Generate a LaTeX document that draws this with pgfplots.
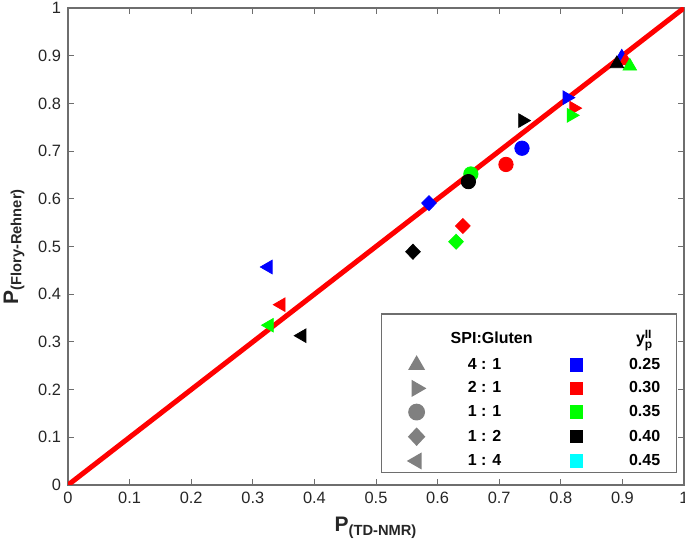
\documentclass[border=0pt]{standalone}
\usepackage{pgfplots}
\pgfplotsset{compat=1.18}
\usepackage{amsmath}
\usepackage{fontspec}
\setmainfont{Liberation Sans}
\definecolor{mblue}{RGB}{0,0,255}
\definecolor{mred}{RGB}{255,0,0}
\definecolor{mgreen}{RGB}{0,255,0}
\definecolor{mcyan}{RGB}{0,255,255}
\definecolor{axgray}{RGB}{110,110,110}
\definecolor{leggray}{RGB}{128,128,128}
\begin{document}
\begin{tikzpicture}
\begin{axis}[
  name=ax,
  scale only axis,
  width=308pt, height=238.5pt,
  xmin=0, xmax=1, ymin=0, ymax=1,
  xtick={0,0.1,0.2,0.3,0.4,0.5,0.6,0.7,0.8,0.9,1},
  ytick={0,0.1,0.2,0.3,0.4,0.5,0.6,0.7,0.8,0.9,1},
  xticklabels={0,0.1,0.2,0.3,0.4,0.5,0.6,0.7,0.8,0.9,1},
  yticklabels={0,0.1,0.2,0.3,0.4,0.5,0.6,0.7,0.8,0.9,1},
  tick align=inside,
  major tick length=3pt,
  tick style={axgray, line width=0.5pt},
  axis line style={axgray, line width=0.6pt},
  tick label style={font=\fontsize{8.2}{9}\selectfont, text=black!85},
  label style={font=\fontsize{10.5}{12}\selectfont\bfseries, text=black!85},
  xlabel={P$_{\text{(TD-NMR)}}$},
  ylabel={P$_{\text{(Flory-Rehner)}}$},
  legend columns=2,
  legend cell align=center,
  legend image code/.code={\path[draw=none,fill=none] (-14.5pt,-3pt) rectangle (8pt,3pt); \draw[#1] plot coordinates {(0pt,0pt)};},
  legend style={at={(0.989,0.025)}, anchor=south east, draw=axgray, fill=white, line width=0.6pt,
    font=\fontsize{8}{9}\selectfont\bfseries,
    inner xsep=3pt, inner ysep=2pt,
    column sep=13pt, /tikz/column 2/.style={column sep=18.5pt},
    row sep=4.2pt,
    nodes={minimum width=26pt, inner xsep=0pt, inner ysep=0pt, text height=6pt, text depth=1.5pt}},
]
% 1:1 reference line
\addplot[mred, line width=2.5pt, forget plot] coordinates {(0,0) (1,1)};

% y_p^II = 0.25 (blue)
\addplot[only marks, mark=triangle*, color=mblue, mark size=3.9pt, forget plot] coordinates {(0.899,0.897)};
\addplot[only marks, mark=triangle*, color=mblue, mark size=3.9pt, mark options={rotate=-90}, forget plot] coordinates {(0.810,0.812)};
\addplot[only marks, mark=*, color=mblue, mark size=3.6pt, forget plot] coordinates {(0.737,0.706)};
\addplot[only marks, mark=diamond*, color=mblue, mark size=3.75pt, mark options={xscale=1.3}, forget plot] coordinates {(0.586,0.591)};
\addplot[only marks, mark=triangle*, color=mblue, mark size=3.9pt, mark options={rotate=90}, forget plot] coordinates {(0.325,0.457)};

% y_p^II = 0.30 (red)
\addplot[only marks, mark=triangle*, color=mred, mark size=3.9pt, forget plot] coordinates {(0.905,0.889)};
\addplot[only marks, mark=triangle*, color=mred, mark size=3.9pt, mark options={rotate=-90}, forget plot] coordinates {(0.821,0.790)};
\addplot[only marks, mark=*, color=mred, mark size=3.6pt, forget plot] coordinates {(0.711,0.672)};
\addplot[only marks, mark=diamond*, color=mred, mark size=3.75pt, mark options={xscale=1.3}, forget plot] coordinates {(0.641,0.543)};
\addplot[only marks, mark=triangle*, color=mred, mark size=3.9pt, mark options={rotate=90}, forget plot] coordinates {(0.346,0.378)};

% y_p^II = 0.35 (green)
\addplot[only marks, mark=triangle*, color=mgreen, mark size=3.9pt, forget plot] coordinates {(0.912,0.878)};
\addplot[only marks, mark=triangle*, color=mgreen, mark size=3.9pt, mark options={rotate=-90}, forget plot] coordinates {(0.817,0.775)};
\addplot[only marks, mark=*, color=mgreen, mark size=3.6pt, forget plot] coordinates {(0.654,0.652)};
\addplot[only marks, mark=diamond*, color=mgreen, mark size=3.75pt, mark options={xscale=1.3}, forget plot] coordinates {(0.630,0.510)};
\addplot[only marks, mark=triangle*, color=mgreen, mark size=3.9pt, mark options={rotate=90}, forget plot] coordinates {(0.327,0.335)};

% y_p^II = 0.40 (black)
\addplot[only marks, mark=triangle*, color=black, mark size=3.9pt, forget plot] coordinates {(0.891,0.883)};
\addplot[only marks, mark=triangle*, color=black, mark size=3.9pt, mark options={rotate=-90}, forget plot] coordinates {(0.738,0.764)};
\addplot[only marks, mark=*, color=black, mark size=3.6pt, forget plot] coordinates {(0.650,0.636)};
\addplot[only marks, mark=diamond*, color=black, mark size=3.75pt, mark options={xscale=1.3}, forget plot] coordinates {(0.560,0.489)};
\addplot[only marks, mark=triangle*, color=black, mark size=3.9pt, mark options={rotate=90}, forget plot] coordinates {(0.380,0.313)};

% legend
\addlegendimage{empty legend}
\addlegendentry[text height=13pt, text depth=2pt]{\makebox[0pt][c]{\hspace{7pt}SPI:Gluten}}
\addlegendimage{empty legend}
\addlegendentry[text height=13pt, text depth=2pt]{$\text{y}_{\text{p}}^{\text{II}}$}
\addlegendimage{mark=triangle*, leggray, mark size=4.3pt}
\addlegendentry{4 : 1}
\addlegendimage{mark=square*, mblue, mark size=3pt}
\addlegendentry{0.25}
\addlegendimage{mark=triangle*, leggray, mark size=4.3pt, mark options={rotate=-90}}
\addlegendentry{2 : 1}
\addlegendimage{mark=square*, mred, mark size=3pt}
\addlegendentry{0.30}
\addlegendimage{mark=*, leggray, mark size=3.9pt}
\addlegendentry{1 : 1}
\addlegendimage{mark=square*, mgreen, mark size=3pt}
\addlegendentry{0.35}
\addlegendimage{mark=diamond*, leggray, mark size=4.2pt, mark options={xscale=1.25}}
\addlegendentry{1 : 2}
\addlegendimage{mark=square*, black, mark size=3pt}
\addlegendentry{0.40}
\addlegendimage{mark=triangle*, leggray, mark size=4.3pt, mark options={rotate=90}}
\addlegendentry{1 : 4}
\addlegendimage{mark=square*, mcyan, mark size=3pt}
\addlegendentry{0.45}
\end{axis}
\pgfresetboundingbox
\path ([shift={(-34pt,-35.5pt)}]ax.south west) rectangle ([shift={(0.5pt,4pt)}]ax.north east);
\end{tikzpicture}
\end{document}
